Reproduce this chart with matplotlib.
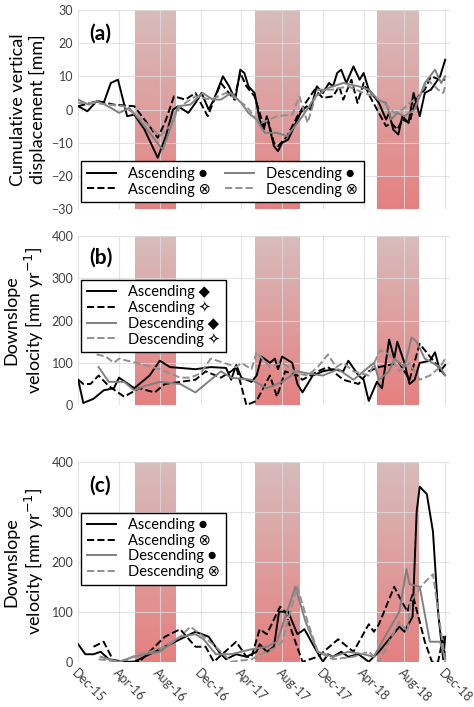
import numpy as np
import matplotlib
matplotlib.use("Agg")
import matplotlib.pyplot as plt
from matplotlib.colors import LinearSegmentedColormap

plt.rcParams['font.family'] = ['Lato', 'DejaVu Sans']

# x in months since Dec-2015
xticks = [0, 4, 8, 12, 16, 20, 24, 28, 32, 36]
xticklabels = ["Dec-15", "Apr-16", "Aug-16", "Dec-16", "Apr-17", "Aug-17", "Dec-17", "Apr-18", "Aug-18", "Dec-18"]
bands = [(5.6, 9.6), (17.3, 21.7), (29.3, 33.4)]

a_asc = [(0,1),(0.9,-0.5),(1.8,2.5),(2.5,2),(3.2,8),(3.9,9),(4.8,-2),(5.5,-1.5),(6.5,-6),(7.8,-14.5),(8.6,-8),(9.3,0),(9.8,1),(10.8,-1),(11.5,2),(12.1,5),(12.8,0),(13.3,3),(14.2,10),(14.8,7),(15.4,3),(15.9,12),(16.3,11),(16.7,7),(17.3,5),(17.8,-3),(18.2,-6),(18.5,-2),(19.2,-11),(19.6,-12.5),(20,-10),(20.6,-9),(21.2,-5),(21.8,-1),(22.4,1),(22.8,0),(23.4,7),(24,5),(24.6,8),(25,7),(25.4,11),(25.8,12),(26.3,8),(27,13),(27.6,9),(28,11),(28.5,6),(29.5,2),(30.2,-3),(30.5,-1),(30.9,-6),(31.4,-7.5),(31.8,-2),(32.4,-4),(32.9,5),(33.5,-2),(34,5),(34.6,6),(35.5,10),(36,15)]
a_asc_d = [(0,1),(1.2,2),(2,2.5),(3.5,1.5),(5.5,1),(7,-5),(7.8,-8.5),(8.5,-4),(9.4,4),(10.5,3),(11.5,5),(12.7,-2),(14,8),(15.3,3),(15.9,11),(16.5,7),(17.3,4),(18.2,-5),(18.6,-3),(19.2,-10),(19.6,-11),(20.5,-8),(21.5,-2),(22.3,2),(23.2,6),(24,3.5),(25,4),(25.6,7),(26,3),(26.8,9),(27.4,2),(28,8),(28.6,4),(30.2,-5),(30.7,-4),(31.3,-6),(31.8,-3),(32.5,-4),(33.1,3),(34,6),(34.6,10),(35.5,9),(36,9)]
a_desc = [(0,3),(1,1.5),(1.8,2.5),(2.6,1.5),(3.5,0),(4,-1),(5,0.5),(6,-3),(7,-7),(8,-11),(8.3,-12),(9,-6),(9.8,1),(11,1.5),(12.2,5),(13.2,3),(14,3),(15,5),(16,2),(16.7,-1),(17.5,-3),(18.3,-7),(19.5,-7),(20.5,-8),(21.5,-4),(22,-2),(23.3,4),(24.5,6.5),(26,8),(27.5,7),(28.5,6),(29.4,3),(30.2,2),(30.7,-3),(31.3,-1),(32,-2),(33,0),(34,8),(35,12),(35.6,8),(36,10)]
a_desc_d = [(0,2),(1.5,2),(3,1.5),(4.5,1),(5.8,-2),(7,-5),(8,-8),(9,-5),(10,1),(11.5,4),(13,3),(14.5,5),(15.6,3),(16.5,1),(17.5,-3),(18,-4),(19.5,-2),(21,-1.5),(21.7,4),(22.5,-4),(23.5,6),(25,6),(26.5,7),(28,5),(29,4),(30,2),(31,-1),(31.8,0),(32.5,2),(33.5,4),(34.3,9),(35.3,6),(35.8,5),(36,7)]

b_asc = [(0,60),(0.5,5),(1.5,15),(2.5,35),(3.5,40),(4,65),(5.5,40),(7,70),(8,105),(9,90),(11.5,85),(13,90),(14.5,88),(15,60),(15.5,95),(16,65),(17,55),(17.5,70),(18,115),(18.8,100),(19.3,110),(19.6,85),(20,115),(21,100),(21.5,50),(22,30),(23,70),(24,80),(25,85),(26,80),(26.5,105),(27.5,70),(28,60),(28.5,10),(29.3,55),(29.8,40),(30.5,155),(31,110),(31.3,150),(32,100),(32.5,50),(33,60),(33.5,100),(34.5,105),(35,125),(35.5,80),(36,95)]
b_asc_d = [(0,60),(0.5,50),(1.2,50),(2,70),(3,45),(4.5,20),(6,40),(7.5,30),(8.5,50),(10,55),(11.5,60),(12.5,80),(14,65),(15,80),(15.5,90),(16.5,0),(17.5,10),(18.8,70),(19.5,20),(20.3,80),(21.5,70),(22,60),(23.5,80),(24.5,90),(26,60),(27.5,50),(28.5,80),(29.5,90),(30.5,95),(31.5,100),(32.5,60),(33.5,145),(35,100),(36,70)]
b_desc = [(2,90),(3,55),(4.5,55),(5.5,35),(6.5,45),(8,55),(10,50),(11.5,30),(12.5,50),(14,80),(15,65),(17,60),(18.5,40),(20,55),(21.5,80),(22.5,75),(24,70),(25.5,85),(27,60),(28,80),(29,100),(29.5,60),(30.5,80),(31,110),(32,90),(32.7,160),(33.2,150),(34,110),(35.5,90),(36,70)]
b_desc_d = [(1.8,120),(2.7,115),(3.5,100),(4,110),(6.5,95),(8,85),(10,65),(11,65),(12,75),(13,110),(14.3,100),(15.5,90),(16,100),(17,85),(17.5,125),(18.8,90),(20,100),(21.5,75),(22.5,70),(23.5,90),(24.5,120),(25.3,90),(26,100),(27,80),(28.5,70),(29.6,130),(30.5,120),(31.5,80),(32.5,100),(33.5,60),(34.5,70),(35.5,90),(36,110)]

c_asc = [(0,35),(0.7,15),(1.5,15),(2.2,20),(3,5),(4.5,0),(5.5,0),(6.5,10),(8,25),(10,45),(11.5,60),(12.8,50),(13.8,20),(14.5,5),(15.5,15),(16.5,10),(17.5,20),(17.8,35),(18.5,20),(19.2,30),(19.7,100),(20.6,100),(21.5,55),(22.2,65),(23,35),(24,0),(24.5,15),(25,10),(25.8,20),(26.5,10),(27.5,15),(28.5,0),(29.5,20),(30.3,40),(31.5,70),(32,60),(32.8,90),(33.2,300),(33.5,350),(34.2,335),(34.8,260),(35.3,100),(35.8,5),(36,50)]
c_asc_d = [(1.5,30),(2.5,40),(3.5,0),(4.5,0),(6,0),(7,20),(8.5,50),(10,65),(11.5,30),(12.5,30),(13.3,0),(15.5,40),(16.5,10),(17,10),(17.8,65),(18.5,55),(19.8,110),(20.3,100),(21.3,40),(22,0),(23.5,10),(25.5,45),(27,20),(28.5,75),(29,60),(29.5,75),(31,150),(31.5,130),(32.3,100),(32.8,135),(33.5,80),(34,40),(34.7,0),(35.3,0),(35.8,50),(36,0)]
c_desc = [(2.2,10),(3,5),(4,0),(5.5,10),(6.5,15),(8,20),(10,50),(11.5,55),(12.3,45),(13.5,15),(15,15),(17,25),(18.5,30),(19.5,40),(21.3,150),(22.3,80),(23.5,20),(25,10),(26.5,20),(28,15),(29,10),(29.8,40),(31.5,100),(32.2,185),(32.5,155),(33.5,150),(34.5,40),(35.5,40),(36,5)]
c_desc_d = [(2,5),(4,0),(6,15),(8,25),(10,50),(11,70),(12,55),(13.5,30),(15,0),(17,5),(19.5,30),(20,40),(21.5,150),(22.5,80),(23.5,20),(25,5),(27,10),(28.5,20),(29.5,0),(31.5,80),(32.3,60),(32.6,120),(33.8,155),(34.8,175),(36,0)]

styles = [dict(color="black", ls="-", lw=1.4), dict(color="black", ls="--", lw=1.4),
          dict(color="#808080", ls="-", lw=1.4), dict(color="#909090", ls="--", lw=1.4)]

cmap = LinearSegmentedColormap.from_list("band", ["#d8bcbc", "#e58080"])
grad = np.linspace(0, 1, 100).reshape(-1, 1)

fig = plt.figure(figsize=(4.74, 7.07), dpi=100)
rects = [[0.165, 0.704, 0.785, 0.282], [0.165, 0.427, 0.785, 0.239], [0.165, 0.064, 0.785, 0.283]]
panels = [
    ("(a)", (-30, 30, 10), "Cumulative vertical\ndisplacement [mm]", [a_asc, a_asc_d, a_desc, a_desc_d],
     ["Ascending \u25CF", "Ascending \u2297", "Descending \u25CF", "Descending \u2297"]),
    ("(b)", (0, 400, 100), "Downslope\nvelocity [mm yr$^{-1}$]", [b_asc, b_asc_d, b_desc, b_desc_d],
     ["Ascending \u25C6", "Ascending \u2727", "Descending \u25C6", "Descending \u2727"]),
    ("(c)", (0, 400, 100), "Downslope\nvelocity [mm yr$^{-1}$]", [c_asc, c_asc_d, c_desc, c_desc_d],
     ["Ascending \u25CF", "Ascending \u2297", "Descending \u25CF", "Descending \u2297"]),
]
for i, (rect, (lab, (y0, y1, ys), ylab, series, names)) in enumerate(zip(rects, panels)):
    ax = fig.add_axes(rect)
    ax.set_xlim(0, 36.5)
    ax.set_ylim(y0, y1)
    for b0, b1 in bands:
        ax.imshow(grad, extent=(b0, b1, y0, y1), origin="upper", aspect="auto", cmap=cmap, zorder=1)
    ax.set_xticks(xticks)
    ax.set_yticks(np.arange(y0, y1 + 1, ys))
    ax.grid(True, color="#dcdcdc", lw=0.8, alpha=0.8)
    ax.set_axisbelow(False)
    for gl in ax.get_xgridlines() + ax.get_ygridlines():
        gl.set_zorder(2)
    for s in ax.spines.values():
        s.set_visible(False)
    ax.tick_params(length=0, labelsize=9, colors="#404040")
    if i == 2:
        ax.set_xticklabels(xticklabels, rotation=-45, ha="left", rotation_mode="anchor")
    else:
        ax.set_xticklabels([])
    lines = []
    for data, st, nm in zip(series, styles, names):
        x, y = zip(*data)
        l, = ax.plot(x, y, zorder=3, label=nm, **st)
        lines.append(l)
    ax.set_ylabel(ylab, fontsize=13, labelpad=4)
    ax.text(0.03, 0.93, lab, transform=ax.transAxes, fontsize=15, fontweight="bold", va="top")
    if i == 0:
        leg = ax.legend(handles=lines, ncol=2, loc="lower left", bbox_to_anchor=(0.0, 0.02),
                        fontsize=10.5, frameon=True, fancybox=False, edgecolor="black",
                        handlelength=2.0, columnspacing=1.0, borderaxespad=0.2, labelspacing=0.1)
    else:
        leg = ax.legend(handles=lines, ncol=1, loc="upper left", bbox_to_anchor=(0.0, 0.76),
                        fontsize=10.5, frameon=True, fancybox=False, edgecolor="black",
                        handlelength=2.0, borderaxespad=0.2, labelspacing=0.1)
    leg.get_frame().set_linewidth(1.0)
    leg.set_zorder(5)
    for lh in leg.get_lines():
        lh.set_linewidth(1.4)
    leg.get_frame().set_alpha(1)

fig.savefig("out.png", dpi=100)
